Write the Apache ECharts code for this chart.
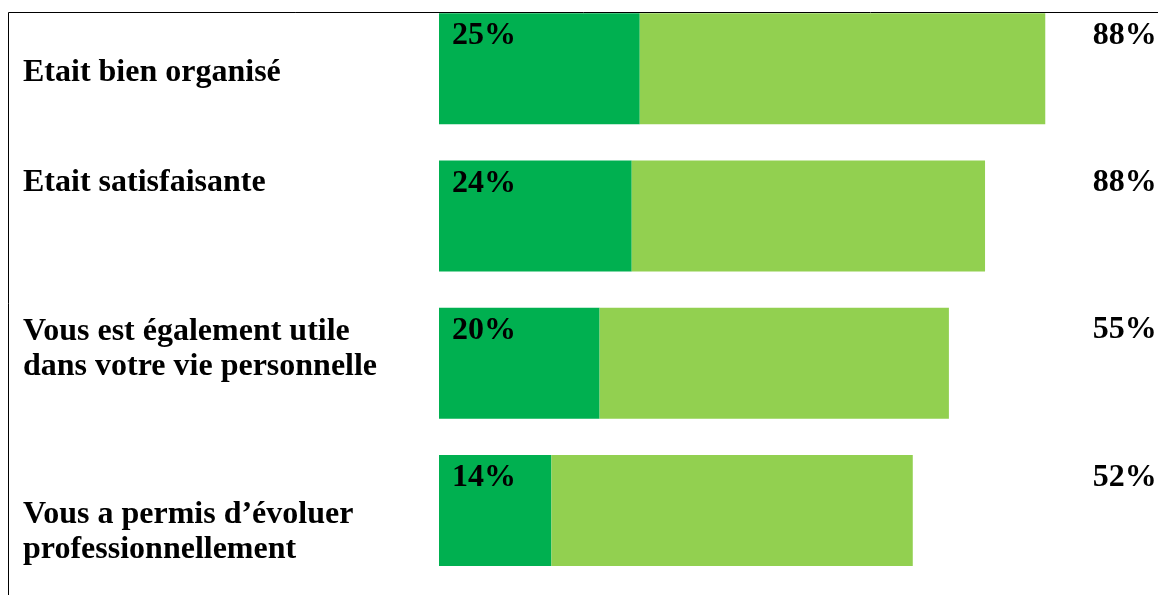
<!DOCTYPE html>
<html>
<head>
<meta charset="utf-8">
<script src="https://cdn.jsdelivr.net/npm/echarts@6/dist/echarts.min.js"></script>
<style>
  html, body { margin: 0; padding: 0; background: #fff; }
  #chart { width: 1158px; height: 595px; }
</style>
</head>
<body>
<div id="chart"></div>
<script>
// Survey statements and their results (percent)
const categories = [
  'Etait bien organisé',
  'Etait satisfaisante',
  'Vous est également utile\ndans votre vie personnelle',
  'Vous a permis d’évoluer\nprofessionnellement'
];
const tresSatisfait = [25, 24, 20, 14];
const plutotSatisfait = [50.5, 44, 43.5, 45];
const totalLabels = [88, 88, 55, 52];

// Vertical nudge (px, + = down) of each statement label from its row centre
const rowLabelShift = [4, -33, -14, 21.5];
// Nudge of the total column, which sits level with the top of each bar
const totalShift = -33;

const FONT = 'Liberation Serif';
const textBase = { fontFamily: FONT, fontWeight: 'bold', fontSize: 32, color: '#000' };

// Build rich text: each line wrapped in a token, plus a thin spacer line
// above (shift > 0) or below (shift < 0) that moves the centred block.
function richBlock(text, spacerName, shift) {
  const body = text.split('\n').map(l => '{t|' + l + '}').join('\n');
  if (!shift) return body;
  const spacer = '{' + spacerName + '| }';
  return shift > 0 ? spacer + '\n' + body : body + '\n' + spacer;
}
function spacerStyle(shift) {
  return { fontSize: 1, lineHeight: Math.max(1, Math.abs(shift) * 2) };
}

const leftRich = { t: Object.assign({}, textBase, { lineHeight: 35 }) };
rowLabelShift.forEach((s, i) => { leftRich['s' + i] = spacerStyle(s); });

const rightRich = {
  t: Object.assign({}, textBase, { lineHeight: 36 }),
  s: spacerStyle(totalShift)
};

const chart = echarts.init(document.getElementById('chart'), null, { renderer: 'canvas' });

chart.setOption({
  animation: false,
  grid: {
    left: 439, right: -3.7, top: -5, bottom: 11,
    containLabel: false, outerBoundsMode: 'none'
  },
  xAxis: { type: 'value', min: 0, max: 90, show: false },
  yAxis: [
    {
      type: 'category',
      inverse: true,
      data: categories,
      axisLine: { show: false },
      axisTick: { show: false },
      splitLine: { show: false },
      axisLabel: Object.assign({}, textBase, {
        align: 'left',
        margin: 416,
        formatter: (v, i) => richBlock(v, 's' + i, rowLabelShift[i]),
        rich: leftRich
      })
    },
    {
      type: 'category',
      inverse: true,
      position: 'right',
      data: totalLabels,
      axisLine: { show: false },
      axisTick: { show: false },
      splitLine: { show: false },
      axisLabel: Object.assign({}, textBase, {
        inside: true,
        align: 'right',
        margin: 5,
        formatter: v => richBlock(v + '%', 's', totalShift),
        rich: rightRich
      })
    }
  ],
  series: [
    {
      name: 'Tout à fait',
      type: 'bar',
      stack: 'total',
      barWidth: 111,
      data: tresSatisfait,
      itemStyle: { color: '#00B050' },
      label: Object.assign({}, textBase, {
        show: true,
        position: [13, 23],
        align: 'left',
        verticalAlign: 'middle',
        formatter: '{c}%'
      }),
      silent: true
    },
    {
      name: 'Plutôt',
      type: 'bar',
      stack: 'total',
      barWidth: 111,
      data: plutotSatisfait,
      itemStyle: { color: '#92D050' },
      silent: true
    }
  ],
  graphic: [
    {
      type: 'polyline',
      shape: { points: [[8.5, 595], [8.5, 12.5], [1158, 12.5]] },
      style: { stroke: '#000', lineWidth: 1, fill: null },
      silent: true
    }
  ]
});
</script>
</body>
</html>
